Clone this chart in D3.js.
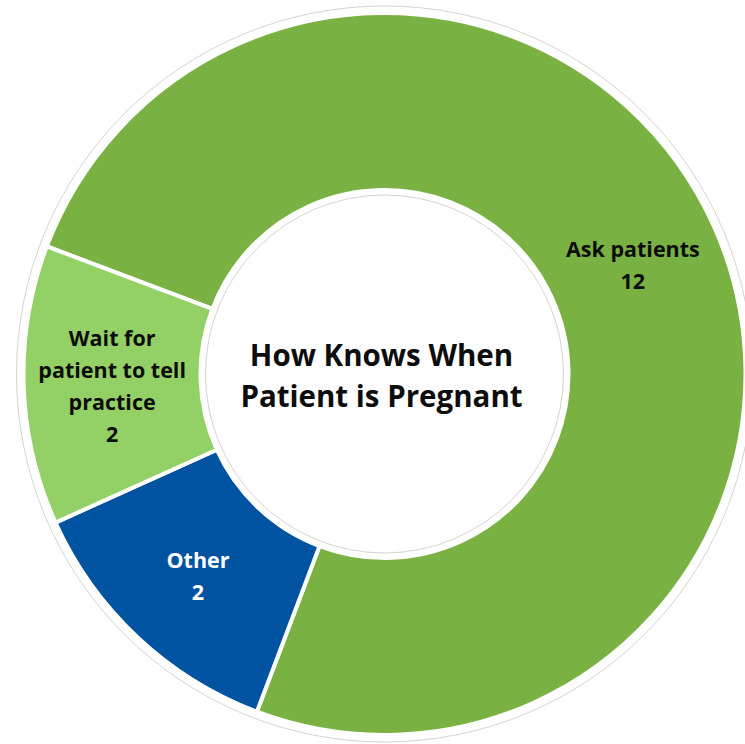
<!DOCTYPE html>
<html>
<head>
<meta charset="utf-8">
<script src="https://cdn.jsdelivr.net/npm/d3@7"></script>
<style>
  html, body { margin: 0; padding: 0; background: #ffffff; }
  svg { display: block; }
</style>
</head>
<body>
<div id="chart"></div>
<script>
// ---- Data ----
const categories = ["Ask patients", "Other", "Wait for patient to tell practice"];
const values = [12, 2, 2];
const labelLines = [["Ask patients"], ["Other"], ["Wait for", "patient to tell", "practice"]];
const colors = ["#79B143", "#0053A1", "#93D066"];
const labelColors = ["#0d0d0d", "#ffffff", "#0d0d0d"];
const titleLines = ["How Knows When", "Patient is Pregnant"];

// ---- Layout ----
const W = 745, H = 744;
const cx = 384.5, cy = 374;
const outerR = 361, innerR = 184;
const startDeg = -69.3;

const svg = d3.select("#chart").append("svg")
  .attr("width", W).attr("height", H);

const g = svg.append("g").attr("transform", `translate(${cx},${cy})`);

// faint outline rings
g.append("circle").attr("r", outerR + 7).attr("fill", "none")
  .attr("stroke", "#d4d4d4").attr("stroke-width", 1);
g.append("circle").attr("r", innerR - 5).attr("fill", "none")
  .attr("stroke", "#d4d4d4").attr("stroke-width", 1);

const pie = d3.pie().sort(null).value(d => d)
  .startAngle(startDeg * Math.PI / 180)
  .endAngle(startDeg * Math.PI / 180 + 2 * Math.PI);

const arcs = pie(values);
const arc = d3.arc().innerRadius(innerR).outerRadius(outerR);

g.selectAll("path.slice").data(arcs).enter().append("path")
  .attr("class", "slice")
  .attr("d", arc)
  .attr("fill", (d, i) => colors[i])
  .attr("stroke", "#ffffff")
  .attr("stroke-width", 4)
  .attr("stroke-linejoin", "miter");

// slice labels
const lineH = 32;
arcs.forEach((d, i) => {
  const [x, y] = arc.centroid(d);
  const lines = labelLines[i].concat([String(values[i])]);
  const n = lines.length;
  const t = g.append("text")
    .attr("text-anchor", "middle")
    .attr("font-family", "'Open Sans', sans-serif")
    .attr("font-weight", "bold")
    .attr("font-size", 21.5)
    .attr("fill", labelColors[i]);
  lines.forEach((ln, k) => {
    t.append("tspan")
      .attr("x", x)
      .attr("y", y + (k - (n - 1) / 2) * lineH + 11)
      .text(ln);
  });
});

// center title
const tt = g.append("text")
  .attr("text-anchor", "middle")
  .attr("font-family", "'Open Sans', sans-serif")
  .attr("font-weight", "bold")
  .attr("font-size", 29.5)
  .attr("fill", "#0d0d0d");
titleLines.forEach((ln, k) => {
  tt.append("tspan")
    .attr("x", -3)
    .attr("y", (k - 0.5) * 41 + 12)
    .text(ln);
});
</script>
</body>
</html>
